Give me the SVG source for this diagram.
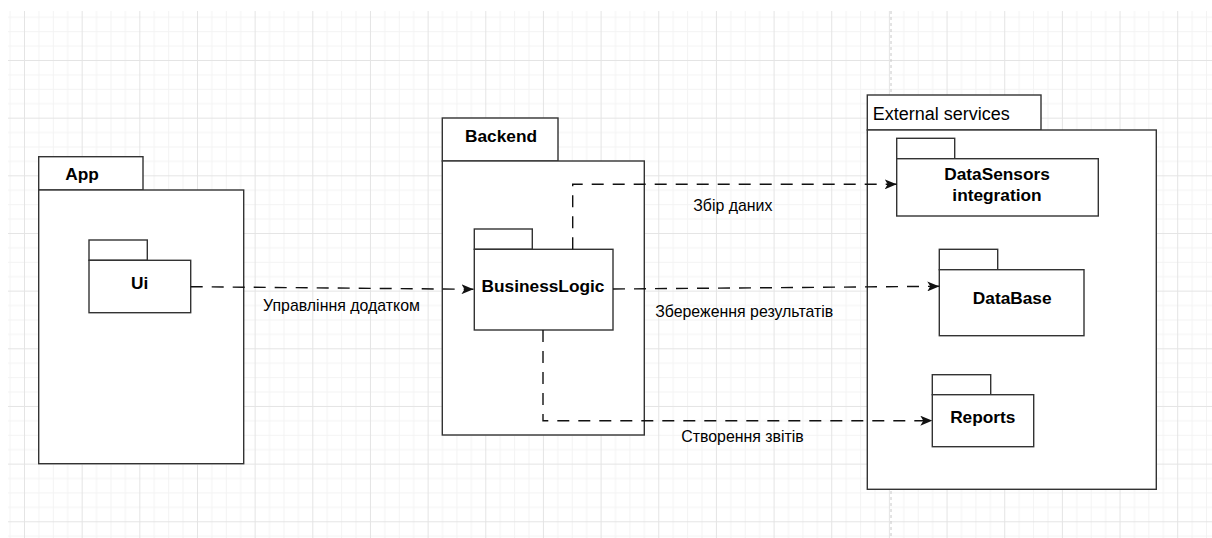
<svg xmlns="http://www.w3.org/2000/svg" width="1212" height="538" viewBox="0 0 1212 538">
  <style>
    .pkg { fill: #ffffff; stroke: #333333; stroke-width: 1.4; }
    .title { font-family: "Liberation Sans", Arial, sans-serif; font-size: 17.3px; font-weight: bold; fill: #000000; }
    .title-c { text-anchor: middle; }
    .plain { font-family: "Liberation Sans", Arial, sans-serif; font-size: 18px; fill: #000000; }
    .edge { fill: none; stroke: #111111; stroke-width: 1.4; stroke-dasharray: 12 9; }
    .elabel { font-family: "Liberation Sans", Arial, sans-serif; font-size: 15.9px; fill: #000000; text-anchor: middle; }
  </style>
  <defs>
    <pattern id="grid" patternUnits="userSpaceOnUse" x="24" y="60" width="57.66" height="57.66">
      <path d="M14.915 0 V57.66 M29.33 0 V57.66 M43.745 0 V57.66 M0 14.915 H57.66 M0 29.33 H57.66 M0 43.745 H57.66" stroke="#f3f3f3" stroke-width="1" fill="none"/>
      <path d="M0.5 0 V57.66 M0 0.5 H57.66" stroke="#e4e4e4" stroke-width="1" fill="none"/>
    </pattern>
    <marker id="arrow" viewBox="0 0 12 10" refX="12" refY="5" markerWidth="12" markerHeight="10" markerUnits="userSpaceOnUse" orient="auto">
      <path d="M0 0 L12 5 L0 10 L3 5 Z" fill="#111111"/>
    </marker>
  </defs>

  <!-- canvas background with grid -->
  <rect x="0" y="0" width="1212" height="538" fill="#ffffff"/>
  <rect x="8" y="11" width="1204" height="527" fill="url(#grid)"/>
  <!-- page break -->
  <line x1="891" y1="11" x2="891" y2="538" stroke="#c8c8c8" stroke-width="1" stroke-dasharray="3 3"/>

  <!-- App package -->
  <g id="app">
    <rect class="pkg" x="38.7" y="156.7" width="104.3" height="33.3"/>
    <rect class="pkg" x="38.7" y="190" width="205" height="273.7"/>
    <text class="title" x="65.3" y="180">App</text>
  </g>

  <g id="ui">
    <rect class="pkg" x="89" y="240" width="58.3" height="20.3"/>
    <rect class="pkg" x="89" y="260.3" width="101.7" height="52.4"/>
    <text class="title title-c" x="139.7" y="288.5">Ui</text>
  </g>

  <!-- Backend package -->
  <g id="backend">
    <rect class="pkg" x="442.3" y="118" width="115.7" height="43"/>
    <rect class="pkg" x="442.3" y="161" width="202" height="274"/>
    <text class="title" x="465" y="142.3">Backend</text>
  </g>

  <g id="business-logic">
    <rect class="pkg" x="474.3" y="229" width="58" height="20.3"/>
    <rect class="pkg" x="474.3" y="249.3" width="138.7" height="80.7"/>
    <text class="title title-c" x="543" y="292">BusinessLogic</text>
  </g>

  <!-- External services package -->
  <g id="external-services">
    <rect class="pkg" x="867.3" y="95" width="173.7" height="35"/>
    <rect class="pkg" x="867.3" y="130" width="289" height="359.3"/>
    <text class="plain" x="872.7" y="120">External services</text>
  </g>

  <g id="data-sensors">
    <rect class="pkg" x="896.7" y="138.3" width="58" height="20.4"/>
    <rect class="pkg" x="896.7" y="158.7" width="201.6" height="57.3"/>
    <text class="title title-c" x="997" y="180">DataSensors</text>
    <text class="title title-c" x="997" y="200.7">integration</text>
  </g>

  <g id="database">
    <rect class="pkg" x="939.3" y="249.3" width="58.4" height="20.4"/>
    <rect class="pkg" x="939.3" y="269.7" width="144.7" height="66"/>
    <text class="title title-c" x="1012.2" y="304.3">DataBase</text>
  </g>

  <g id="reports">
    <rect class="pkg" x="932.3" y="374.7" width="58.4" height="20"/>
    <rect class="pkg" x="932.3" y="394.7" width="101.4" height="52"/>
    <text class="title title-c" x="982.8" y="422.7">Reports</text>
  </g>

  <!-- dependencies -->
  <g id="connectors">
    <path class="edge" d="M190.7 286.7 L473.5 289.3" marker-end="url(#arrow)"/>
    <path class="edge" d="M572.7 249.3 V184.3 H896.7" marker-end="url(#arrow)"/>
    <path class="edge" d="M613 289 L939.3 286.3" marker-end="url(#arrow)"/>
    <path class="edge" d="M543 330 V420.7 H932.3" marker-end="url(#arrow)"/>
    <text class="elabel" x="341.5" y="310.5">Управління додатком</text>
    <text class="elabel" x="732.8" y="211">Збір даних</text>
    <text class="elabel" x="744.2" y="316.7">Збереження результатів</text>
    <text class="elabel" x="742.5" y="441.7">Створення звітів</text>
  </g>
</svg>
